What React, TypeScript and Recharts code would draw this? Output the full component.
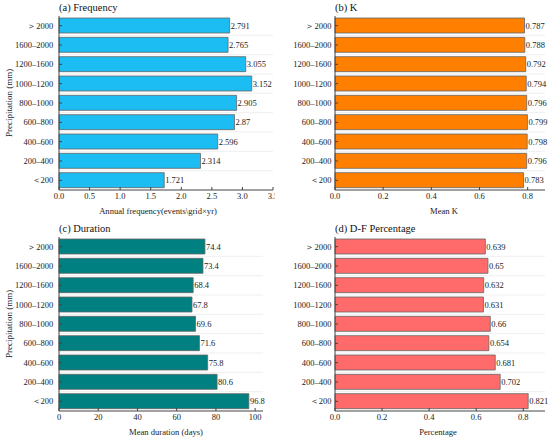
import React from "react";
import { BarChart, Bar, XAxis, YAxis, LabelList, ReferenceLine } from "recharts";

const categories = ["＜200", "200–400", "400–600", "600–800", "800–1000", "1000–1200", "1200–1600", "1600–2000", "＞2000"];
const frequency = [1.721, 2.314, 2.596, 2.87, 2.905, 3.152, 3.055, 2.765, 2.791];
const meanK = [0.783, 0.796, 0.798, 0.799, 0.796, 0.794, 0.792, 0.788, 0.787];
const duration = [96.8, 80.6, 75.8, 71.6, 69.6, 67.8, 68.4, 73.4, 74.4];
const dfPercentage = [0.821, 0.702, 0.681, 0.654, 0.66, 0.631, 0.632, 0.65, 0.639];

const freqTicks = [0, 0.5, 1, 1.5, 2, 2.5, 3, 3.5];
const kTicks = [0, 0.2, 0.4, 0.6, 0.8];
const durTicks = [0, 20, 40, 60, 80, 100];
const pctTicks = [0, 0.2, 0.4, 0.6, 0.8];

const FONT = "Liberation Serif, Times New Roman, serif";
const idxs = categories.map((_, i) => i);
const boundaries = categories.slice(1).map((_, i) => i + 0.5);

type PanelProps = {
  left: number;
  top: number;
  title: string;
  values: number[];
  color: string;
  xTicks: number[];
  xMax: number;
  xFmt: (v: number) => string;
  xLabel: string;
  showYLabel: boolean;
  yWidth: number;
  rightMargin: number;
  tickMargin: number;
  xLabelDx: number;
};

function Panel(p: PanelProps) {
  const data = p.values.map((v, i) => ({ idx: i, v }));
  return (
    <div style={{ position: "absolute", left: p.left, top: p.top, width: 275, height: 221 }}>
      <div
        style={{
          position: "absolute",
          left: p.yWidth,
          top: 1,
          fontFamily: FONT,
          fontSize: 10.5,
          fontWeight: 400,
          color: "#111",
          lineHeight: "14px",
          whiteSpace: "nowrap",
        }}
      >
        {p.title}
      </div>
      <BarChart
        width={275}
        height={221}
        data={data}
        layout="vertical"
        margin={{ top: 16, right: p.rightMargin, bottom: 0, left: 0 }}
        style={{ fontFamily: FONT }}
      >
        {boundaries.map((b) => (
          <ReferenceLine key={b} y={b} stroke="#e4e4e4" strokeWidth={0.6} />
        ))}
        <XAxis
          type="number"
          domain={[0, p.xMax]}
          ticks={p.xTicks}
          tickFormatter={p.xFmt}
          interval={0}
          height={31}
          tickSize={-3}
          tickMargin={6}
          stroke="#444"
          tick={{ fontSize: 8.5, fill: "#222", fontFamily: FONT }}
          label={{
            value: p.xLabel,
            position: "insideBottom",
            offset: 7,
            dx: p.xLabelDx,
            fontFamily: FONT,
            style: { fontSize: 8.6, fill: "#222", fontFamily: FONT },
          }}
        />
        <YAxis
          type="number"
          dataKey="idx"
          reversed={true}
          domain={[-0.5, categories.length - 0.5]}
          ticks={idxs}
          interval={0}
          tickFormatter={(i: number) => categories[i]}
          width={p.yWidth}
          tickSize={-3}
          tickMargin={p.tickMargin}
          stroke="#444"
          tick={{ fontSize: 8.5, fill: "#222", fontFamily: FONT }}
          label={
            p.showYLabel
              ? {
                  value: "Precipitation (mm)",
                  angle: -90,
                  position: "center",
                  dx: -21,
                  fontFamily: FONT,
                  style: { fontSize: 9, fill: "#222", fontFamily: FONT },
                }
              : undefined
          }
        />
        <Bar dataKey="v" fill={p.color} stroke="#666" strokeWidth={0.8} barSize={15} isAnimationActive={false}>
          <LabelList
            dataKey="v"
            position="right"
            offset={1}
            fontFamily={FONT}
            style={{ fontSize: 8.5, fill: "#222", fontFamily: FONT }}
          />
        </Bar>
      </BarChart>
    </div>
  );
}

const fmt1 = (v: number) => v.toFixed(1);
const fmt0 = (v: number) => String(v);

export default function App() {
  return (
    <div style={{ position: "fixed", left: 0, top: 0, width: 550, height: 442, background: "#fff", fontFamily: FONT }}>
      <Panel
        left={0}
        top={0}
        title="(a) Frequency"
        values={frequency}
        color="#1BBDF2"
        xTicks={freqTicks}
        xMax={3.5}
        xFmt={fmt1}
        xLabel="Annual frequency(events\grid×yr)"
        showYLabel={true}
        yWidth={59}
        rightMargin={2}
        tickMargin={8.7}
        xLabelDx={-8}
      />
      <Panel
        left={275}
        top={0}
        title="(b) K"
        values={meanK}
        color="#FF8000"
        xTicks={kTicks}
        xMax={0.872}
        xFmt={fmt1}
        xLabel="Mean K"
        showYLabel={false}
        yWidth={60}
        rightMargin={5}
        tickMargin={6.6}
        xLabelDx={4}
      />
      <Panel
        left={0}
        top={221}
        title="(c) Duration"
        values={duration}
        color="#008080"
        xTicks={durTicks}
        xMax={104}
        xFmt={fmt0}
        xLabel="Mean duration (days)"
        showYLabel={true}
        yWidth={59}
        rightMargin={12}
        tickMargin={8.7}
        xLabelDx={5}
      />
      <Panel
        left={275}
        top={221}
        title="(d) D-F Percentage"
        values={dfPercentage}
        color="#FF6B6B"
        xTicks={pctTicks}
        xMax={0.8925}
        xFmt={fmt1}
        xLabel="Percentage"
        showYLabel={false}
        yWidth={60}
        rightMargin={5}
        tickMargin={6.6}
        xLabelDx={-2}
      />
    </div>
  );
}
